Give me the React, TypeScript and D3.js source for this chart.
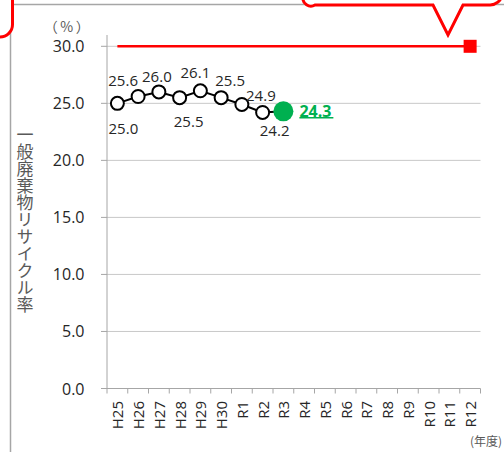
import React from "react";
import * as d3 from "d3";

const categories = ["H25","H26","H27","H28","H29","H30","R1","R2","R3","R4","R5","R6","R7","R8","R9","R10","R11","R12"];
const actualCats = ["H25","H26","H27","H28","H29","H30","R1","R2","R3"];
const actualValues = [25.0, 25.6, 26.0, 25.5, 26.1, 25.5, 24.9, 24.2, 24.3];
const targetCats = ["H25", "R12"];
const targetValues = [30.0, 30.0];
const yTicks = [0, 5, 10, 15, 20, 25, 30];
// label offsets (styling) relative to markers
const labelDx = [6, -15, -2, 9, -5, 9, 19, 12, 16];
const labelDy = [25, -16, -16, 23, -19, -18, -9, 18, 0];

const W = 504, H = 452;
const X0 = 107, X1 = 480.5;
const font = "'Open Sans', 'Noto Sans', sans-serif";
const cjk = "'Noto Sans CJK JP', sans-serif";
const textColor = "#262626";

export default function App() {
  const x = d3.scaleBand<string>().domain(categories).range([X0, X1]).padding(0);
  const y = d3.scaleLinear().domain([0, 30]).range([388.5, 46.3]);
  const cx = (c: string) => (x(c) as number) + x.bandwidth() / 2;
  const pts = actualCats.map((c, i) => [cx(c), y(actualValues[i])] as [number, number]);
  const line = d3.line<[number, number]>();
  const tpts = targetCats.map((c, i) => [cx(c), y(targetValues[i])] as [number, number]);
  const last = actualCats.length - 1;
  const gx = pts[last][0] + labelDx[last];
  const gy = pts[last][1] + labelDy[last];

  return (
    <svg width={W} height={H} style={{ position: "absolute", left: 0, top: 0, background: "#fff" }}>
      {/* frame */}
      <line x1={10.5} y1={0} x2={10.5} y2={H} stroke="#a6a6a6" strokeWidth={1.5} />
      <line x1={10} y1={4.5} x2={W} y2={4.5} stroke="#a6a6a6" strokeWidth={1.5} />
      {/* callouts */}
      <path d="M -5,37 L 0,37 A 12.5 12.5 0 0 0 12.5,24.5 L 12.5,-5 L -5,-5 Z" fill="#fff" stroke="none" />
      <path d="M -5,37 L 0,37 A 12.5 12.5 0 0 0 12.5,24.5 L 12.5,-5" fill="none" stroke="#ff0000" strokeWidth={3} />
      <path d="M 303,-5 L 303,-3 A 8 8 0 0 0 315,5 L 433,5 L 448,35 L 463,5 L 490,5 A 12 12 0 0 0 502,-5 Z" fill="#fff" stroke="none" />
      <path d="M 303,-5 L 303,-3 A 8 8 0 0 0 315,5 L 433,5 L 448,35 L 463,5 L 490,5 A 12 12 0 0 0 502,-5" fill="none" stroke="#ff0000" strokeWidth={3} strokeLinejoin="miter" />

      {/* gridlines */}
      {yTicks.map((t) => (
        <g key={t}>
          <line x1={X0} x2={X1} y1={y(t)} y2={y(t)} stroke={t === 0 ? "#a6a6a6" : "#c8c8c8"} strokeWidth={1} />
          <line x1={X0 - 6} x2={X0} y1={y(t)} y2={y(t)} stroke="#a6a6a6" strokeWidth={1} />
          <text x={84.5} y={y(t)} textAnchor="end" dominantBaseline="central" fontFamily={font} fontSize={16} fill={textColor}>
            {t.toFixed(1)}
          </text>
        </g>
      ))}
      {/* y axis line */}
      <line x1={X0} x2={X0} y1={35} y2={y(0)} stroke="#a6a6a6" strokeWidth={1} />
      {/* x ticks */}
      {categories.map((c) => (
        <line key={"t" + c} x1={x(c) as number} x2={x(c) as number} y1={y(0)} y2={y(0) + 5} stroke="#a6a6a6" strokeWidth={1} />
      ))}
      <line x1={X1} x2={X1} y1={y(0)} y2={y(0) + 5} stroke="#a6a6a6" strokeWidth={1} />
      {categories.map((c) => (
        <text key={"l" + c} transform={`translate(${cx(c)},401) rotate(-90)`} textAnchor="end" dominantBaseline="central"
          fontFamily={font} fontSize={15} fill={textColor}>{c}</text>
      ))}

      {/* titles */}
      <text x={68} y={26} textAnchor="middle" fontFamily={cjk} fontSize={14} letterSpacing={2.5} fill="#595959" dominantBaseline="central">（%）</text>
      <text x={25} y={220} textAnchor="middle" fontFamily={cjk} fontSize={17} fill="#595959"
        style={{ writingMode: "vertical-rl" as any }}>一般廃棄物リサイクル率</text>
      <text x={470} y={440} dominantBaseline="central" fontFamily={cjk} fontSize={12} fill="#595959">(年度)</text>

      {/* target line */}
      <path d={line(tpts) as string} fill="none" stroke="#ff0000" strokeWidth={2.5} />
      <rect x={tpts[1][0] - 6.5} y={tpts[1][1] - 6.5} width={13} height={13} fill="#ff0000" />

      {/* actual line */}
      <path d={line(pts) as string} fill="none" stroke="#000" strokeWidth={2} />
      {pts.slice(0, last).map((p, i) => (
        <circle key={"c" + i} cx={p[0]} cy={p[1]} r={6.5} fill="#fff" stroke="#000" strokeWidth={2} />
      ))}
      <circle cx={pts[last][0]} cy={pts[last][1]} r={10} fill="#00b050" />

      {/* data labels */}
      {pts.slice(0, last).map((p, i) => (
        <text key={"d" + i} x={p[0] + labelDx[i]} y={p[1] + labelDy[i]} textAnchor="middle" dominantBaseline="central"
          fontFamily={font} fontSize={15} fill={textColor}>{actualValues[i].toFixed(1)}</text>
      ))}
      <text x={gx} y={gy + 5.5} fontFamily={font} fontSize={16} fontWeight="bold" fill="#00b050">
        {actualValues[last].toFixed(1)}
      </text>
      <line x1={gx} x2={gx + 34} y1={gy + 6.5} y2={gy + 6.5} stroke="#00b050" strokeWidth={1.5} />
    </svg>
  );
}
